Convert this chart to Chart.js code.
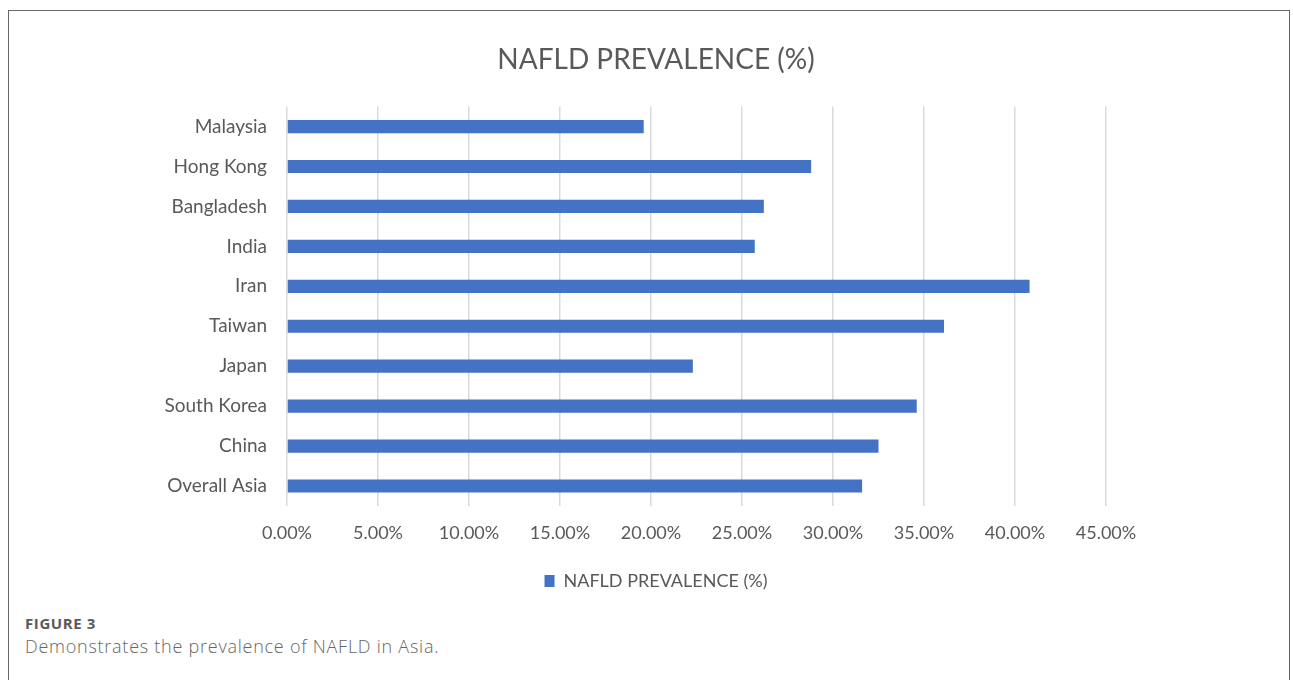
<!DOCTYPE html>
<html>
<head>
<meta charset="utf-8">
<script src="https://cdn.jsdelivr.net/npm/chart.js@4/dist/chart.umd.min.js"></script>
<style>
  html, body { margin: 0; padding: 0; background: #fff; overflow: hidden; }
  body { width: 1293px; height: 680px; position: relative; font-family: Lato, "Open Sans", sans-serif; }
  .frame {
    position: absolute; left: 8px; top: 10px; width: 1282px; height: 680px;
    border: 1.5px solid #666; border-bottom: none; box-sizing: border-box;
  }
  #chart-wrap { position: absolute; left: 19px; top: 0; width: 1274px; height: 600px; }
  .fig-label { position: absolute; left: 25px; top: 613px; font-family: "Open Sans", sans-serif; font-size: 15px; font-weight: 700; color: #5a5a5a; letter-spacing: 0.6px; }
  .fig-caption { position: absolute; left: 25px; top: 634px; font-family: "Open Sans", sans-serif; font-size: 18px; font-weight: 300; color: #666; letter-spacing: 0.75px; }
</style>
</head>
<body>
<div class="frame"></div>
<div id="chart-wrap"><canvas id="nafld-chart" width="1274" height="600"></canvas></div>
<div class="fig-label">FIGURE 3</div>
<div class="fig-caption">Demonstrates the prevalence of NAFLD in Asia.</div>
<script>
// NAFLD prevalence by country (percent), top to bottom as in the figure
const countries = ['Malaysia', 'Hong Kong', 'Bangladesh', 'India', 'Iran', 'Taiwan', 'Japan', 'South Korea', 'China', 'Overall Asia'];
const prevalence = [19.6, 28.8, 26.2, 25.7, 40.8, 36.1, 22.3, 34.6, 32.5, 31.6];
const seriesName = 'NAFLD PREVALENCE (%)';
const xTicks = [0, 5, 10, 15, 20, 25, 30, 35, 40, 45];

const textColor = '#595959';
const barColor = '#4472c4';

new Chart(document.getElementById('nafld-chart'), {
  type: 'bar',
  data: {
    labels: countries,
    datasets: [{
      label: seriesName,
      data: prevalence,
      yAxisID: 'y',
      backgroundColor: barColor,
      barPercentage: 0.33,
      categoryPercentage: 1
    }]
  },
  options: {
    indexAxis: 'y',
    responsive: false,
    animation: false,
    layout: { padding: 0 },
    plugins: {
      title: {
        display: true,
        text: seriesName,
        color: textColor,
        font: { family: 'Lato', size: 28, weight: 'normal' },
        padding: { top: 43, bottom: 30 }
      },
      legend: {
        position: 'bottom',
        labels: {
          color: textColor,
          font: { family: 'Lato', size: 18 },
          boxWidth: 10,
          boxHeight: 12,
          padding: 10
        }
      },
      tooltip: { enabled: false }
    },
    scales: {
      x: {
        min: 0,
        max: 45,
        afterBuildTicks: (s) => { s.ticks = xTicks.map(v => ({ value: v })); },
        ticks: {
          color: textColor,
          font: { family: 'Lato', size: 18 },
          padding: 16,
          callback: (v) => v.toFixed(2) + '%'
        },
        grid: { color: '#d9d9d9', lineWidth: 1.5, drawTicks: false },
        border: { display: false },
        afterFit: (s) => { s.height = 56; }
      },
      y: {
        ticks: {
          color: textColor,
          font: { family: 'Lato', size: 19 },
          padding: 20
        },
        grid: { display: false, drawTicks: false },
        border: { display: false },
        afterFit: (s) => { s.width = 268; }
      },
      // empty right-hand axis: keeps the empty space right of the plot while
      // title and legend still center on the whole figure
      yRight: {
        position: 'right',
        type: 'linear',
        ticks: { display: false },
        grid: { display: false, drawTicks: false },
        border: { display: false },
        afterFit: (s) => { s.width = 187; }
      }
    }
  }
});
</script>
</body>
</html>
